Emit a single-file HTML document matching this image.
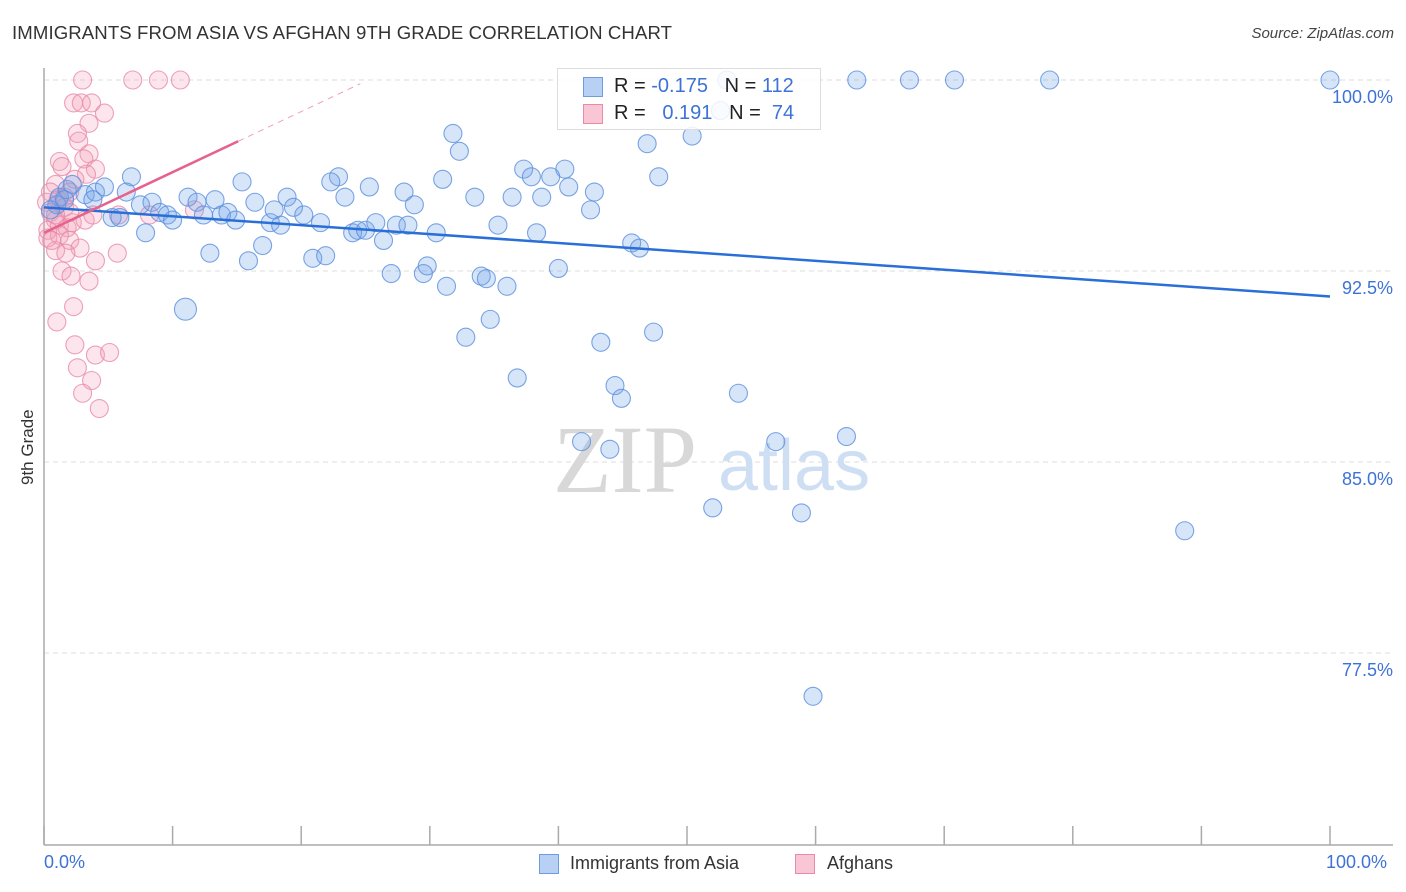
<!DOCTYPE html>
<html><head><meta charset="utf-8"><style>
body{margin:0;background:#fff;font-family:"Liberation Sans",sans-serif;}
#c{position:relative;width:1406px;height:892px;}
.t{position:absolute;white-space:nowrap;}
</style></head><body>
<div id="c">
<div class="t" style="left:12px;top:22px;font-size:18.6px;letter-spacing:0.1px;color:#333;">IMMIGRANTS FROM ASIA VS AFGHAN 9TH GRADE CORRELATION CHART</div>
<div class="t" style="right:12px;top:25px;font-size:15px;color:#444;font-style:italic;">Source: ZipAtlas.com</div>
<svg id="s" width="1406" height="892" style="position:absolute;left:0;top:0"></svg>
</div>
<script>
const blueX=[100,78.2,70.8,67.3,63.2,53.1,52.6,50.4,46.9,31.8,32.3,6.8,15.4,22.9,22.3,25.3,31.0,37.3,37.9,40.5,39.4,40.8,42.8,47.8,28.0,28.8,33.5,36.4,38.7,42.5,1.2,1.8,2.2,3.2,4.0,4.7,6.4,3.8,5.3,5.9,7.5,8.4,9.0,9.6,10.0,7.9,11.2,11.9,12.4,13.3,13.8,14.3,14.9,16.4,17.6,17.9,18.4,18.9,19.4,20.2,21.5,23.4,24.0,24.4,25.0,25.8,26.4,27.4,28.3,30.5,35.3,38.3,45.7,46.3,12.9,15.9,17.0,20.9,21.9,27.0,29.5,29.8,31.3,34.0,34.4,36.0,40.0,11.0,34.7,32.8,47.4,43.3,36.8,44.4,44.9,54.0,41.8,44.0,56.9,62.4,52.0,58.9,88.7,59.8,1.0,1.6,0.5];
const blueY=[100,100,100,100,100,100,98.8,97.8,97.5,97.9,97.2,96.2,96.0,96.2,96.0,95.8,96.1,96.5,96.2,96.5,96.2,95.8,95.6,96.2,95.6,95.1,95.4,95.4,95.4,94.9,95.4,95.7,95.9,95.5,95.6,95.8,95.6,95.3,94.6,94.6,95.1,95.2,94.8,94.7,94.5,94.0,95.4,95.2,94.7,95.3,94.7,94.8,94.5,95.2,94.4,94.9,94.3,95.4,95.0,94.7,94.4,95.4,94.0,94.1,94.1,94.4,93.7,94.3,94.3,94.0,94.3,94.0,93.6,93.4,93.2,92.9,93.5,93.0,93.1,92.4,92.4,92.7,91.9,92.3,92.2,91.9,92.6,91.0,90.6,89.9,90.1,89.7,88.3,88.0,87.5,87.7,85.8,85.5,85.8,86.0,83.2,83.0,82.3,75.8,95.1,95.3,94.9];
const pinkX=[3.0,6.9,8.9,10.6,2.3,2.9,3.7,4.7,3.5,2.6,2.7,3.5,3.1,1.2,1.4,4.0,3.3,2.4,0.9,0.5,1.1,1.6,2.0,0.2,0.5,0.9,1.2,1.8,2.2,3.2,3.8,5.8,8.2,11.7,0.3,1.2,2.0,2.8,0.9,1.7,5.7,4.0,1.4,2.1,3.5,1.0,2.3,2.4,4.0,5.1,2.6,3.7,3.0,4.3,0.3,0.6,1.6,2.0,0.9];
const pinkY=[100,100,100,100,99.1,99.1,99.1,98.7,98.3,97.9,97.6,97.1,96.9,96.8,96.6,96.5,96.3,96.1,95.9,95.6,95.3,95.4,95.6,95.2,94.8,94.5,94.3,94.2,94.4,94.5,94.7,94.7,94.7,94.9,93.8,93.9,93.7,93.4,93.3,93.2,93.2,92.9,92.5,92.3,92.1,90.5,91.1,89.6,89.2,89.3,88.7,88.2,87.7,87.1,94.1,93.7,95.0,94.8,94.7];
const blueTrend=[95.0,91.5];
const pinkTrend=[94.0,0.238];
const yTicks=[100,92.5,85,77.5];
const yTickLabels=["100.0%","92.5%","85.0%","77.5%"];
const NS='http://www.w3.org/2000/svg';
const s=document.getElementById('s');
const X=v=>44+v*12.86;
const Y=v=>80+(100-v)/7.5*191;
function mk(t,a,p){const e=document.createElementNS(NS,t);for(const k in a)e.setAttribute(k,a[k]);(p||s).appendChild(e);return e;}
yTicks.forEach((v,i)=>{
 const g=mk('line',{x1:44,x2:1393,y1:Y(v),y2:Y(v),stroke:'#ddd','stroke-dasharray':'5,4'});
 
 
 const t=mk('text',{x:1393,y:Y(v)+23,'text-anchor':'end',fill:'#3d72d6','font-size':18,'font-family':'Liberation Sans'});
 t.textContent=yTickLabels[i];
 
 
});
const ax=mk('line',{x1:44,x2:44,y1:68,y2:845,stroke:'#aaa','stroke-width':1.5});


const bx=mk('line',{x1:44,x2:1393,y1:845,y2:845,stroke:'#aaa','stroke-width':1.5});


for(let i=0;i<=10;i++){const tk=mk('line',{x1:X(i*10),x2:X(i*10),y1:826,y2:845,stroke:'#aaa','stroke-width':1.5});
 
 }
const w1=mk('text',{x:553,y:492,fill:'#d8d8d8','font-size':96,'font-family':'Liberation Serif'});w1.textContent='ZIP';


const w2=mk('text',{x:718,y:490,fill:'#cfdff3','font-size':72,'font-family':'Liberation Sans'});w2.textContent='atlas';


pinkX.forEach((x,i)=>{const c=mk('circle',{cx:X(x),cy:Y(pinkY[i]),r:9,fill:'rgba(244,160,188,0.28)',stroke:'rgba(233,138,169,0.8)','stroke-width':1.1});
 
 });
blueX.forEach((x,i)=>{const c=mk('circle',{cx:X(x),cy:Y(blueY[i]),r:(x===11.0?11:9),fill:'rgba(110,160,230,0.28)',stroke:'rgba(90,142,222,0.8)','stroke-width':1.1});
 
 });
const bl=mk('line',{x1:X(0),y1:Y(blueTrend[0]),x2:X(100),y2:Y(blueTrend[1]),stroke:'#2a6fd8','stroke-width':2.5});


const pl=mk('line',{x1:X(0),y1:Y(pinkTrend[0]),x2:X(15.1),y2:Y(pinkTrend[0]+pinkTrend[1]*15.1),stroke:'#e6628c','stroke-width':2.5});


const pd=mk('line',{x1:X(15.1),y1:Y(pinkTrend[0]+pinkTrend[1]*15.1),x2:X(24.6),y2:Y(pinkTrend[0]+pinkTrend[1]*24.6),stroke:'#eea0b8','stroke-width':1,'stroke-dasharray':'6,5'});


</script>
<div class="t" style="left:-2px;top:445px;font-size:17px;color:#333;transform:rotate(-90deg);transform-origin:center;width:60px;text-align:center;">9th Grade</div>
<div class="t" style="left:44px;top:852px;font-size:18px;color:#3d72d6;">0.0%</div>
<div class="t" style="left:1326px;top:852px;font-size:18px;color:#3d72d6;">100.0%</div>
<div style="position:absolute;left:557px;top:68px;width:262px;height:60px;border:1px solid #ddd;background:rgba(255,255,255,0.85);font-size:20px;">
 <div style="position:absolute;left:25px;top:8px;width:18px;height:18px;background:#b8d0f4;border:1px solid #6f9be0;"></div>
 <div class="t" style="left:56px;top:6px;color:#222;">R = <span style="color:#3d72d6">-0.175</span>&nbsp;&nbsp; N = <span style="color:#3d72d6">112</span></div>
 <div style="position:absolute;left:25px;top:35px;width:18px;height:18px;background:#f8c6d4;border:1px solid #e98aa9;"></div>
 <div class="t" style="left:56px;top:33px;color:#222;">R = &nbsp;&nbsp;<span style="color:#3d72d6">0.191</span>&nbsp;&nbsp; N = &nbsp;<span style="color:#3d72d6">74</span></div>
</div>
<div style="position:absolute;left:539px;top:854px;">
 <div style="position:absolute;left:0;top:0;width:18px;height:18px;background:#b8d0f4;border:1px solid #6f9be0;"></div>
 <div class="t" style="left:31px;top:-1px;font-size:18px;color:#333;">Immigrants from Asia</div></div>
<div style="position:absolute;left:795px;top:854px;">
 <div style="position:absolute;left:0;top:0;width:18px;height:18px;background:#f8c6d4;border:1px solid #e98aa9;"></div>
 <div class="t" style="left:32px;top:-1px;font-size:18px;color:#333;">Afghans</div></div>
</body></html>
